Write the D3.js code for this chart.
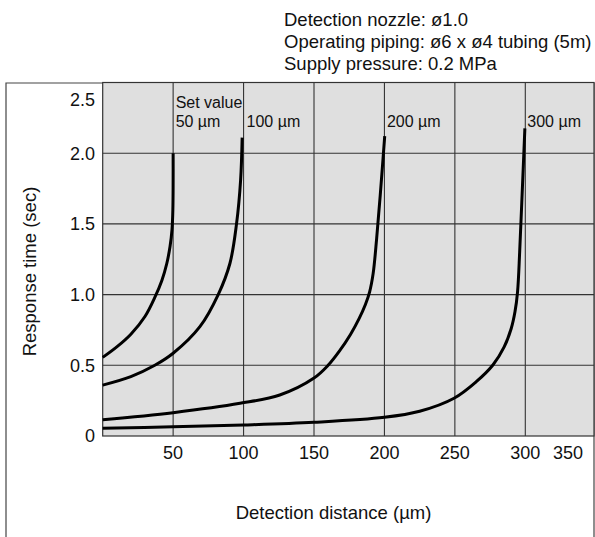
<!DOCTYPE html>
<html>
<head>
<meta charset="utf-8">
<script src="https://cdn.jsdelivr.net/npm/d3@7"></script>
<style>
  html, body { margin: 0; padding: 0; background: #fff; }
  svg { display: block; font-family: "Liberation Sans", Arial, Helvetica, sans-serif; }
</style>
</head>
<body>
<svg id="chart" width="595" height="537"></svg>
<script>
// ---- data ----
const headerLines = [
  "Detection nozzle: ø1.0",
  "Operating piping: ø6 x ø4 tubing (5m)",
  "Supply pressure: 0.2 MPa"
];
const xTicks = [50, 100, 150, 200, 250, 300, 350];
const yTicks = [0, 0.5, 1.0, 1.5, 2.0, 2.5];
const yTickLabels = ["0", "0.5", "1.0", "1.5", "2.0", "2.5"];
const setValues = [50, 100, 200, 300];
const setLabels = ["50 µm", "100 µm", "200 µm", "300 µm"];

// [detection distance (µm), response time (sec)]
const curve50 = [[0,0.556],[10,0.63],[20,0.72],[30,0.845],[37,0.98],[42,1.1],[45.5,1.22],[47.8,1.34],[49.2,1.46],[49.8,1.6],[50,2.0]];
const curve100 = [[0,0.36],[20,0.42],[37,0.5],[50,0.585],[69,0.773],[82,1.0],[90.3,1.22],[95,1.5],[97.9,1.81],[99,2.11]];
const curve200 = [[0,0.115],[50,0.165],[97.5,0.231],[125.7,0.29],[150,0.41],[160,0.5],[168,0.6],[176,0.72],[182,0.83],[186.5,0.93],[189.5,1.02],[192,1.15],[194.5,1.4],[197,1.7],[200.2,2.12]];
const curve300 = [[0,0.055],[50,0.065],[100,0.078],[150,0.097],[200,0.132],[225,0.175],[249.4,0.267],[265.2,0.384],[277,0.502],[285,0.63],[290,0.76],[292.7,0.88],[294.5,1.02],[296,1.3],[297.5,1.65],[299.7,2.176]];
const curves = [curve50, curve100, curve200, curve300];

// ---- layout ----
const svg = d3.select("#chart");
const frameL = 6, frameR = 594, frameT = 83;
const plotL = 102.7, plotR = 594, plotB = 436;

const x = d3.scaleLinear().domain([0, 300]).range([plotL, 525.3]);
const y = d3.scaleLinear().domain([0, 2.5]).range([plotB, 82.5]);
const plotT = y(2.5);

// header
svg.append("g").selectAll("text").data(headerLines).join("text")
  .attr("x", 284).attr("y", (d, i) => 26 + i * 22)
  .attr("font-size", 18.5).attr("fill", "#111")
  .text(d => d);

// outer frame
svg.append("path")
  .attr("d", `M${frameL},540 V${frameT} H${frameR} V540`)
  .attr("fill", "none").attr("stroke", "#444").attr("stroke-width", 1.2);

// plot background
svg.append("rect")
  .attr("x", plotL).attr("y", plotT)
  .attr("width", plotR - plotL).attr("height", plotB - plotT)
  .attr("fill", "#dfdfdf").attr("stroke", "#333").attr("stroke-width", 1.2);

// grid
const grid = svg.append("g").attr("stroke", "#333").attr("stroke-width", 1.1);
grid.selectAll("line.v").data(xTicks.filter(v => x(v) < plotR - 1)).join("line")
  .attr("x1", d => x(d)).attr("x2", d => x(d))
  .attr("y1", plotT).attr("y2", plotB);
grid.selectAll("line.h").data(yTicks.filter(v => v > 0 && v < 2.5)).join("line")
  .attr("x1", plotL).attr("x2", plotR)
  .attr("y1", d => y(d)).attr("y2", d => y(d));

// x tick labels
svg.append("g").selectAll("text").data(xTicks).join("text")
  .attr("x", d => Math.min(x(d), plotR - 26))
  .attr("y", 459)
  .attr("text-anchor", "middle").attr("font-size", 18).attr("fill", "#111")
  .text(d => d);

// y tick labels
svg.append("g").selectAll("text").data(yTicks).join("text")
  .attr("x", 95)
  .attr("y", d => Math.min(Math.max(y(d), plotT + 17), plotB + 3))
  .attr("dy", "0.36em")
  .attr("text-anchor", "end").attr("font-size", 18).attr("fill", "#111")
  .text((d, i) => yTickLabels[i]);

// axis titles
svg.append("text")
  .attr("x", 333.5).attr("y", 519)
  .attr("text-anchor", "middle").attr("font-size", 18.5).attr("fill", "#111")
  .text("Detection distance (µm)");
svg.append("text")
  .attr("transform", "translate(36,271.5) rotate(-90)")
  .attr("text-anchor", "middle").attr("font-size", 18.5).attr("fill", "#111")
  .text("Response time (sec)");

// curves
const line = d3.line()
  .x(d => x(d[0])).y(d => y(d[1]))
  .curve(d3.curveCatmullRom.alpha(0.5));
svg.append("g").selectAll("path").data(curves).join("path")
  .attr("d", line)
  .attr("fill", "none").attr("stroke", "#000").attr("stroke-width", 3)
  .attr("stroke-linecap", "butt");

// series labels
const lab = svg.append("g").attr("font-size", 16).attr("fill", "#111");
lab.selectAll("text").data(setValues).join("text")
  .attr("x", (d, i) => x(d) + (i === 0 ? 2.5 : 3.5 - i * 0.5))
  .attr("y", y(2.185))
  .text((d, i) => setLabels[i]);
lab.append("text")
  .attr("x", x(setValues[0]) + 2.5).attr("y", y(2.32))
  .text("Set value");
</script>
</body>
</html>
